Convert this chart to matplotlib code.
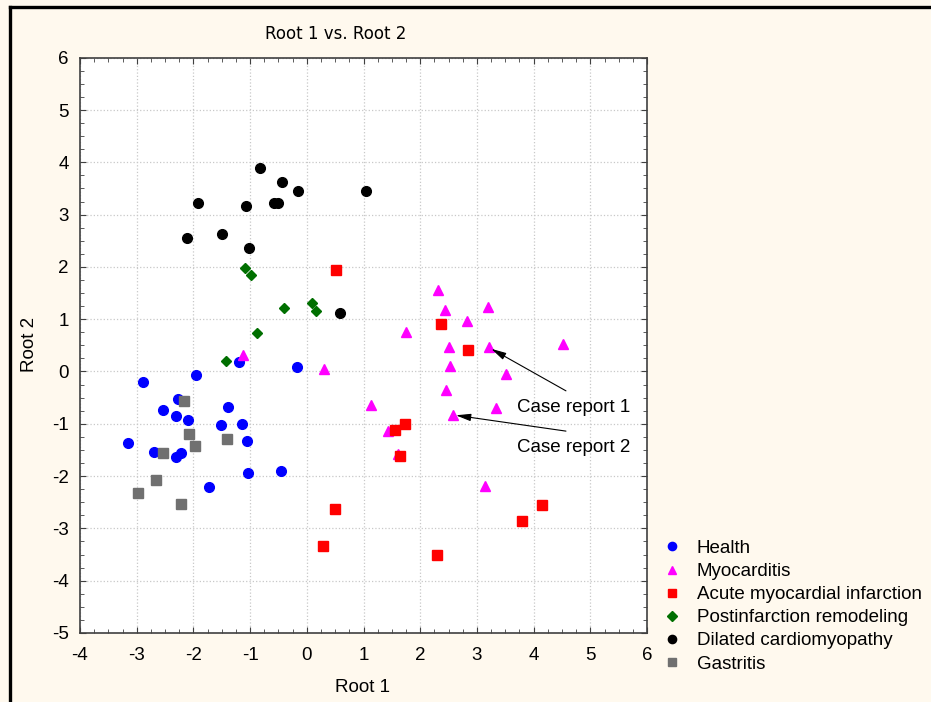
import matplotlib

matplotlib.use("Agg")
import matplotlib.pyplot as plt
from matplotlib.lines import Line2D
from matplotlib.ticker import MultipleLocator

plt.rcParams["font.family"] = ["Liberation Sans", "DejaVu Sans"]
plt.rcParams["axes.unicode_minus"] = False

# Root 1 / Root 2 scores, one pair of lists per group
health_x = [-1.19, -0.17, -1.95, -2.88, -2.28, -1.39, -2.54, -2.31, -2.09, -1.52,
            -1.15, -3.16, -1.05, -2.69, -2.22, -2.30, -1.03, -0.45, -1.72]
health_y = [0.19, 0.09, -0.07, -0.21, -0.52, -0.67, -0.74, -0.86, -0.93, -1.02,
            -1.00, -1.36, -1.32, -1.53, -1.55, -1.63, -1.95, -1.90, -2.20]

myo_x = [-1.12, 0.30, 1.13, 1.43, 1.60, 1.75, 2.31, 2.43, 3.20, 2.82,
         2.51, 3.21, 4.51, 2.53, 3.51, 2.46, 3.34, 2.58, 3.14]
myo_y = [0.32, 0.05, -0.65, -1.13, -1.57, 0.76, 1.55, 1.17, 1.23, 0.97,
         0.47, 0.46, 0.53, 0.10, -0.05, -0.35, -0.69, -0.83, -2.19]

ami_x = [0.52, 2.37, 2.84, 1.55, 1.73, 1.65, 0.49, 0.28, 2.30, 4.14, 3.80]
ami_y = [1.95, 0.91, 0.42, -1.11, -1.00, -1.61, -2.62, -3.33, -3.50, -2.55, -2.85]

post_x = [-1.09, -0.98, -0.40, 0.09, 0.16, -0.88, -1.42]
post_y = [1.97, 1.85, 1.21, 1.31, 1.15, 0.74, 0.20]

dcm_x = [-0.83, -0.43, -0.16, 1.04, -1.92, -1.07, -0.58, -0.50, -2.11, -1.49, -1.02, 0.59]
dcm_y = [3.90, 3.63, 3.45, 3.46, 3.22, 3.17, 3.22, 3.22, 2.56, 2.62, 2.37, 1.12]

gas_x = [-2.16, -2.07, -1.97, -1.40, -2.54, -2.66, -2.97, -2.22]
gas_y = [-0.57, -1.19, -1.42, -1.29, -1.56, -2.08, -2.32, -2.54]

labels = ["Health", "Myocarditis", "Acute myocardial infarction",
          "Postinfarction remodeling", "Dilated cardiomyopathy", "Gastritis"]

# the two annotated myocarditis cases: (label, point, text anchor)
cases = [("Case report 1", (3.21, 0.46), (3.71, -0.68)),
         ("Case report 2", (2.58, -0.83), (3.71, -1.45))]

BG = "#fff9ee"

fig = plt.figure(figsize=(9.31, 7.02), dpi=100, facecolor=BG)
ax = fig.add_axes([0.0859, 0.0983, 0.6091, 0.8195])
ax.set_facecolor("white")

groups = [
    (health_x, health_y, "o", "#0000ff", 7),
    (myo_x, myo_y, "^", "#ff00ff", 7.5),
    (ami_x, ami_y, "s", "#ff0000", 7),
    (post_x, post_y, "D", "#006f00", 5.5),
    (dcm_x, dcm_y, "o", "#000000", 7),
    (gas_x, gas_y, "s", "#707070", 7),
]
handles = []
for (gx, gy, mk, col, ms), lab in zip(groups, labels):
    ax.plot(gx, gy, ls="none", marker=mk, color=col, ms=ms, mec=col, zorder=3)
    handles.append(Line2D([], [], ls="none", marker=mk, color=col, ms=ms * 0.85, mec=col))

for txt, pt, at in cases:
    ax.annotate("", xy=pt, xytext=(at[0] + 0.86, at[1] + 0.31),
                arrowprops=dict(arrowstyle="-|>,head_length=0.9,head_width=0.22",
                                color="black", lw=0.8, shrinkA=0, shrinkB=2))
    ax.text(at[0], at[1], txt, fontsize=13.5, va="center", ha="left")

ax.set_xlim(-4, 6)
ax.set_ylim(-5, 6)
ax.xaxis.set_major_locator(MultipleLocator(1))
ax.yaxis.set_major_locator(MultipleLocator(1))
ax.xaxis.set_minor_locator(MultipleLocator(0.25))
ax.yaxis.set_minor_locator(MultipleLocator(0.25))
ax.tick_params(which="both", direction="in", top=True, right=True, colors="#404040",
               labelcolor="black", labelsize=13.5)
ax.tick_params(which="major", length=4)
ax.tick_params(which="minor", length=3)
ax.tick_params(axis="x", pad=10)
ax.tick_params(axis="y", pad=8)
for s in ax.spines.values():
    s.set_color("#404040")
    s.set_linewidth(1.2)
ax.grid(True, which="major", ls=":", color="#c8c8c8", lw=0.9)
ax.set_axisbelow(True)

fig.text(0.361, 0.952, "Root 1 vs. Root 2", ha="center", va="center", fontsize=12,
         family=["Liberation Sans Narrow", "DejaVu Sans"])
fig.text(0.389, 0.020, "Root 1", ha="center", va="center", fontsize=13.5)
fig.text(0.032, 0.509, "Root 2", ha="center", va="center", rotation=90, fontsize=13.5)

fig.legend(handles, labels, loc="upper left", bbox_to_anchor=(0.714, 0.231),
           frameon=False, fontsize=13.5, handlelength=0.8, handletextpad=0.9,
           labelspacing=0.32, borderpad=0, borderaxespad=0)

# dark frame on the left and top edges of the figure
fig.add_artist(Line2D([0.011, 0.011], [0, 0.990], transform=fig.transFigure,
                      color="black", lw=2.4))
fig.add_artist(Line2D([0.011, 1.0], [0.990, 0.990], transform=fig.transFigure,
                      color="black", lw=2.4))

fig.savefig("out.png", dpi=100, facecolor=BG)
